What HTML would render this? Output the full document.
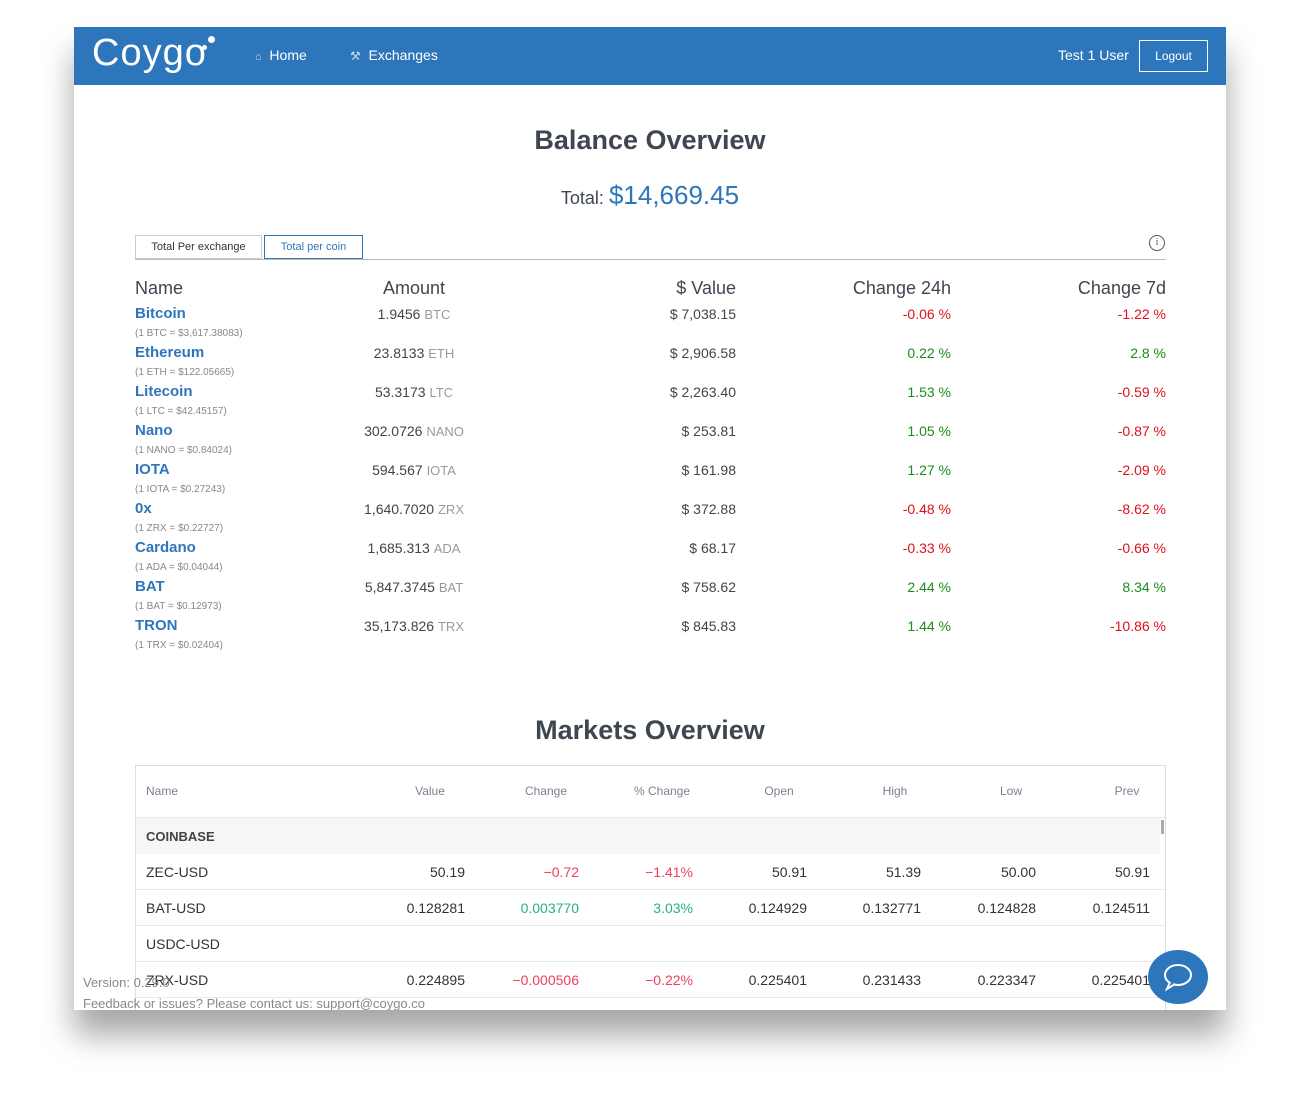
<!DOCTYPE html>
<html><head><meta charset="utf-8">
<style>
*{margin:0;padding:0;box-sizing:border-box}
body{width:1300px;height:1106px;background:#fff;font-family:"Liberation Sans",sans-serif;position:relative;overflow:hidden}
.win{position:absolute;left:74px;top:27px;width:1152px;height:983px;background:#fff;box-shadow:0 25px 30px rgba(0,0,0,0.35);overflow:hidden}
.a{position:absolute;white-space:nowrap}
.nav{position:absolute;left:0;top:0;width:1152px;height:58px;background:#2e76bc}
.r{text-align:right}
.c{text-align:center}
.blue{color:#2e76bc}
.red{color:#e0101a}.grn{color:#1a8c1a}
.mred{color:#ee3f5b}.mgrn{color:#27b37a}
</style></head><body>
<div class="win">
 <div class="nav">
  <div class="a" style="left:18px;top:5px;font-size:38px;color:#fff;font-weight:300;letter-spacing:1px">Coygo</div>
  <div class="a" style="left:134px;top:9px;width:7px;height:7px;border-radius:50%;background:#fff"></div>
  <div class="a" style="left:128px;top:18px;width:5px;height:5px;border-radius:50%;background:#fff"></div>
  <div class="a" style="left:181px;top:20px;font-size:14px;color:#fff"><span style="font-size:11px;color:#c9dcf0">&#8962;</span>&nbsp; Home</div>
  <div class="a" style="left:276px;top:20px;font-size:14px;color:#fff"><span style="font-size:12px;color:#c9dcf0">&#9874;</span>&nbsp; Exchanges</div>
  <div class="a" style="left:984px;top:20px;font-size:14px;color:#fff">Test 1 User</div>
  <div class="a c" style="left:1065px;top:13px;width:69px;height:32px;border:1px solid #fff;color:#fff;font-size:12px;line-height:30px">Logout</div>
 </div>
 <div class="a c" style="left:0;top:98px;width:1152px;font-size:27px;color:#3f4652;font-weight:bold">Balance Overview</div>
 <div class="a c" style="left:0;top:153px;width:1152px;font-size:18px;color:#3f4652">Total: <span class="blue" style="font-size:26px">$14,669.45</span></div>
 <div class="a c" style="left:61px;top:208px;width:127px;height:24px;border:1px solid #ccc;font-size:11px;line-height:22px;color:#333">Total Per exchange</div>
 <div class="a c blue" style="left:190px;top:208px;width:99px;height:24px;border:1px solid #2e76bc;font-size:11px;line-height:22px;background:#fff">Total per coin</div>
 <div class="a" style="left:61px;top:232px;width:1031px;height:1px;background:#bbb"></div>
 <div class="a c" style="left:1075px;top:208px;width:16px;height:16px;border:1px solid #555;border-radius:50%;font-size:10px;line-height:14px;color:#555;font-family:'Liberation Serif',serif">i</div>
 <div id="coins"></div>
 <div class="a c" style="left:0;top:688px;width:1152px;font-size:27px;color:#3f4652;font-weight:bold">Markets Overview</div>
 <div class="a" style="left:61px;top:738px;width:1031px;height:260px;border:1px solid #ddd;border-bottom:none">
  <div class="a" style="left:0;top:51px;width:1029px;height:1px;background:#e6e9ee"></div>
  <div class="a" style="left:0;top:52px;width:1024px;height:36px;background:#f5f6f8"></div>
  <div class="a" style="left:1025px;top:54px;width:3px;height:14px;background:#aaa"></div>
  <div class="a" style="left:10px;top:63px;font-size:13px;font-weight:bold;color:#444">COINBASE</div>
  <div id="mk"></div>
 </div>
 <div class="a" style="left:9px;top:948px;font-size:13px;color:#888">Version: 0.29.0</div>
 <div class="a" style="left:9px;top:969px;font-size:13px;color:#888">Feedback or issues? Please contact us: support@coygo.co</div>
 <div class="a" style="left:1074px;top:923px;width:60px;height:54px;border-radius:50%;background:#2e76bc">
  <svg width="60" height="54"><ellipse cx="30" cy="25" rx="13" ry="10" fill="none" stroke="#fff" stroke-width="2"/><path d="M22 32 L19 39 L27 34" fill="#2e76bc" stroke="#fff" stroke-width="2"/></svg>
 </div>
</div>
<script>
const coinNames=["Bitcoin","Ethereum","Litecoin","Nano","IOTA","0x","Cardano","BAT","TRON"];
const coinSyms=["BTC","ETH","LTC","NANO","IOTA","ZRX","ADA","BAT","TRX"];
const coinRates=["3,617.38083","122.05665","42.45157","0.84024","0.27243","0.22727","0.04044","0.12973","0.02404"];
const coinAmounts=["1.9456","23.8133","53.3173","302.0726","594.567","1,640.7020","1,685.313","5,847.3745","35,173.826"];
const coinValues=["7,038.15","2,906.58","2,263.40","253.81","161.98","372.88","68.17","758.62","845.83"];
const change24h=[-0.06,0.22,1.53,1.05,1.27,-0.48,-0.33,2.44,1.44];
const change7d=[-1.22,2.8,-0.59,-0.87,-2.09,-8.62,-0.66,8.34,-10.86];
const mkNames=["ZEC-USD","BAT-USD","USDC-USD","ZRX-USD"];
const mkValue=["50.19","0.128281","","0.224895"];
const mkChange=["−0.72","0.003770","","−0.000506"];
const mkPct=["−1.41%","3.03%","","−0.22%"];
const mkOpen=["50.91","0.124929","","0.225401"];
const mkHigh=["51.39","0.132771","","0.231433"];
const mkLow=["50.00","0.124828","","0.223347"];
const mkPrev=["50.91","0.124511","","0.225401"];
function mk(parent,html,style,name,cls){const d=document.createElement('div');d.className='a '+(cls||'');d.style.cssText=style;d.innerHTML=html;


parent.appendChild(d);return d;}
const W=document.querySelector('.win');
const hs="top:251px;font-size:18px;color:#3f4652;";
mk(W,"Name",hs+"left:61px;","col-name");
mk(W,"Amount",hs+"left:240px;width:200px;text-align:center;","col-amount");
mk(W,"$ Value",hs+"left:462px;width:200px;text-align:right;","col-value");
mk(W,"Change 24h",hs+"left:677px;width:200px;text-align:right;","col-change-24h");
mk(W,"Change 7d",hs+"left:892px;width:200px;text-align:right;","col-change-7d");
coinNames.forEach((n,i)=>{const y=278+i*39;
 const nm=mk(W,n,`left:61px;top:${y}px;font-size:15px;font-weight:bold;`,"coin-name","blue");
 
 mk(W,`(1 ${coinSyms[i]} = $${coinRates[i]})`,`left:61px;top:${y+23}px;font-size:10px;color:#888;`,"coin-rate");
 mk(W,`${coinAmounts[i]} <span style="color:#999;font-size:13px">${coinSyms[i]}</span>`,`left:240px;width:200px;text-align:center;top:${y+1}px;font-size:14px;color:#444;`,"coin-amount");
 mk(W,`$ ${coinValues[i]}`,`left:462px;width:200px;text-align:right;top:${y+1}px;font-size:14px;color:#444;`,"coin-value");
 mk(W,`${change24h[i]} %`,`left:677px;width:200px;text-align:right;top:${y+1}px;font-size:14px;`,"coin-change-24h",change24h[i]<0?'red':'grn');
 mk(W,`${change7d[i]} %`,`left:892px;width:200px;text-align:right;top:${y+1}px;font-size:14px;`,"coin-change-7d",change7d[i]<0?'red':'grn');
});
const M=document.getElementById('mk');
const hdr=["Value","Change","% Change","Open","High","Low","Prev"];
const hc=[294,410,526,643,759,875,991];
mk(M,"Name","left:10px;top:18px;font-size:12px;color:#7a8290;","mh-name");
hdr.forEach((h,j)=>mk(M,h,`left:${hc[j]-60}px;width:120px;text-align:center;top:18px;font-size:12px;color:#7a8290;`,"mh-"+h.replace('% ','pct-').toLowerCase()));
const rr=[329,443,557,671,785,900,1014];
mkNames.forEach((n,i)=>{const y=88+i*36;
 mk(M,"",`left:0;top:${y+35}px;width:1029px;height:1px;background:#e6e9ee;`,"row-divider");
 mk(M,n,`left:10px;top:${y+10}px;font-size:14px;color:#333;`,"market-name");
 const vals=[mkValue[i],mkChange[i],mkPct[i],mkOpen[i],mkHigh[i],mkLow[i],mkPrev[i]];
 vals.forEach((v,j)=>{let cls='';if(j==1||j==2)cls=v.startsWith('−')?'mred':'mgrn';
  mk(M,v,`left:${rr[j]-150}px;width:150px;text-align:right;top:${y+10}px;font-size:14px;${cls?'':'color:#333;'}`,"market-cell",cls);});
});
</script>
</body></html>
